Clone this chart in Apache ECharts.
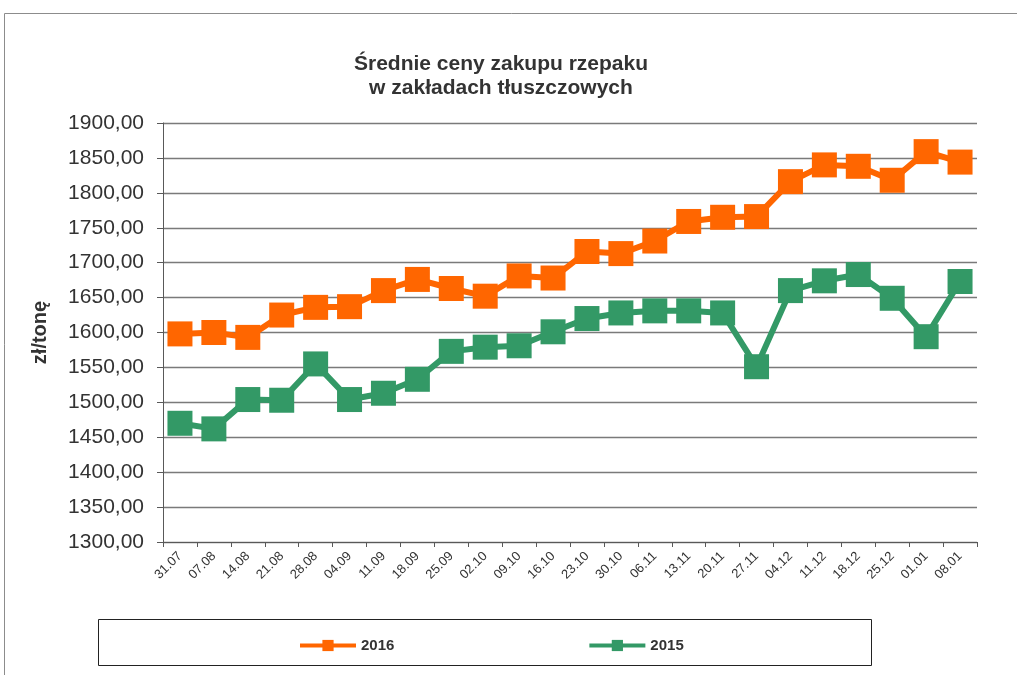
<!DOCTYPE html>
<html>
<head>
<meta charset="utf-8">
<title>Średnie ceny zakupu rzepaku</title>
<script src="https://cdn.jsdelivr.net/npm/echarts@6/dist/echarts.min.js"></script>
<style>
  html, body { margin: 0; padding: 0; background: #fff; }
  #chart { width: 1017px; height: 675px; }
</style>
</head>
<body>
<div id="chart"></div>
<script>
const weeks = ['31.07', '07.08', '14.08', '21.08', '28.08', '04.09', '11.09', '18.09',
  '25.09', '02.10', '09.10', '16.10', '23.10', '30.10', '06.11', '13.11', '20.11',
  '27.11', '04.12', '11.12', '18.12', '25.12', '01.01', '08.01']

const prices2016 = [1598, 1600, 1593, 1625, 1636, 1637, 1660, 1676, 1663, 1652, 1681, 1678,
  1716, 1713, 1731, 1759, 1765, 1766, 1816, 1840, 1838, 1818, 1859, 1844]

const prices2015 = [1470, 1462, 1504, 1503, 1555, 1504, 1513, 1533, 1573, 1579, 1581, 1601,
  1620, 1628, 1631, 1631, 1628, 1551, 1660, 1674, 1683, 1649, 1594, 1673]

const yMin = 1300
const yMax = 1900
const yStep = 50

const orange = '#ff6600'
const green = '#339966'
const textColor = '#333333'

function line(name, data, color) {
  return {
    name,
    type: 'line',
    data,
    color,
    symbol: 'rect',
    symbolSize: 25,
    itemStyle: { color },
    lineStyle: { width: 6, color },
    emphasis: { disabled: true },
    z: name === '2016' ? 3 : 2
  }
}

const chart = echarts.init(document.getElementById('chart'))

chart.setOption({
  animation: false,
  textStyle: { fontFamily: '"Liberation Sans", Arial, sans-serif' },
  title: {
    text: 'Średnie ceny zakupu rzepaku\nw zakładach tłuszczowych',
    left: 496,
    top: 47,
    textAlign: 'center',
    textStyle: {
      fontSize: 21,
      fontWeight: 'bold',
      color: textColor,
      lineHeight: 24,
      fontFamily: '"Liberation Sans", Arial, sans-serif'
    }
  },
  graphic: [
    {
      type: 'rect',
      shape: { x: 4.5, y: 13.5, width: 1100, height: 800 },
      style: { fill: 'none', stroke: '#8c8c8c', lineWidth: 1 },
      silent: true
    },
    {
      type: 'rect',
      shape: { x: 98.5, y: 619.5, width: 773, height: 46 },
      style: { fill: '#fff', stroke: '#222', lineWidth: 1 },
      silent: true
    }
  ],
  legend: {
    left: 293,
    top: 633,
    itemWidth: 56,
    itemHeight: 14,
    itemGap: 193,
    selectedMode: false,
    lineStyle: { width: 4 },
    textStyle: { fontSize: 15, fontWeight: 'bold', color: textColor },
    data: ['2016', '2015']
  },
  grid: { left: 163, right: 40, top: 123, bottom: 133 },
  xAxis: {
    type: 'category',
    data: weeks,
    boundaryGap: true,
    axisLine: { lineStyle: { color: '#595959', width: 1 } },
    axisTick: { show: true, length: 5, interval: 0, lineStyle: { color: '#595959' } },
    axisLabel: { rotate: 45, interval: 0, fontSize: 13, color: textColor, margin: 12 }
  },
  yAxis: {
    type: 'value',
    min: yMin,
    max: yMax,
    interval: yStep,
    name: 'zł/tonę',
    nameLocation: 'middle',
    nameGap: 113,
    nameTextStyle: { fontSize: 20, fontWeight: 'bold', color: textColor },
    axisLine: { show: true, lineStyle: { color: '#595959', width: 1 } },
    axisTick: { show: true, length: 6, lineStyle: { color: '#595959' } },
    axisLabel: {
      fontSize: 21,
      color: textColor,
      margin: 19,
      formatter: (v) => v.toFixed(2).replace('.', ',')
    },
    splitLine: { lineStyle: { color: '#7a7a7a', width: 1.3 } }
  },
  series: [
    line('2016', prices2016, orange),
    line('2015', prices2015, green)
  ]
})
</script>
</body>
</html>
